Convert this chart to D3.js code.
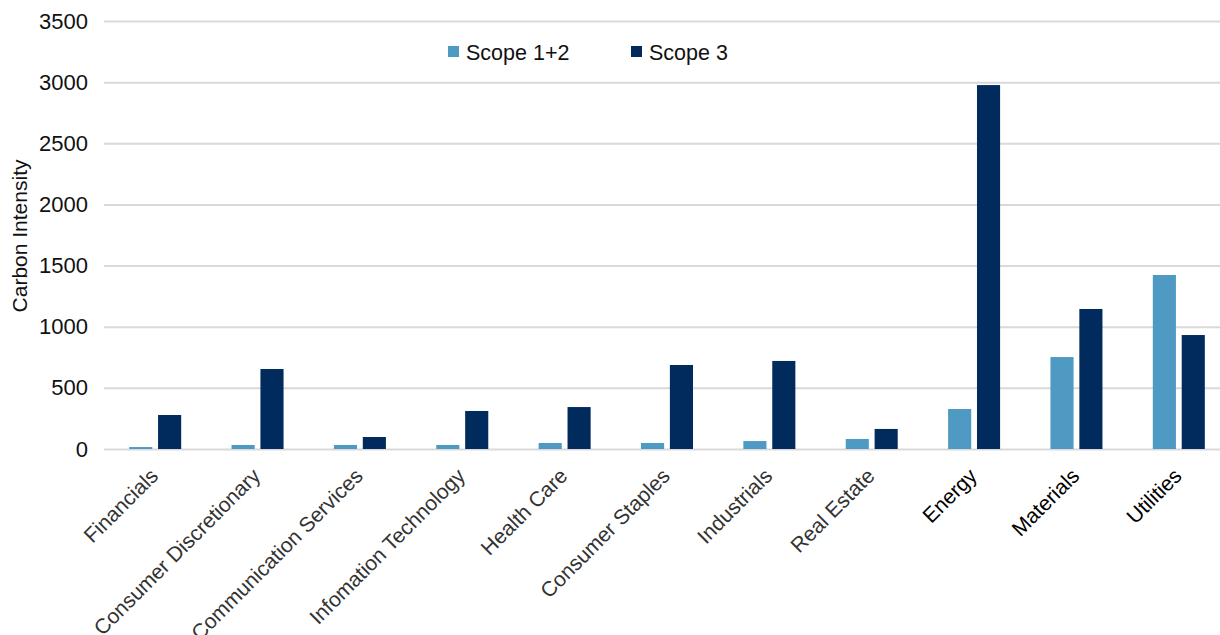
<!DOCTYPE html>
<html>
<head>
<meta charset="utf-8">
<script src="https://cdn.jsdelivr.net/npm/d3@7"></script>
<style>
  body { margin: 0; background: #fff; }
  svg { display: block; font-family: "Liberation Sans", Arial, sans-serif; }
</style>
</head>
<body>
<svg id="chart" width="1220" height="635"></svg>
<script>
// sectors and the two emission series
const sectors = ["Financials", "Consumer Discretionary", "Communication Services", "Infomation Technology",
    "Health Care", "Consumer Staples", "Industrials", "Real Estate", "Energy", "Materials", "Utilities"];
const scope12 = [16, 33, 33, 33, 49, 49, 65, 82, 327, 752, 1423];
const scope3 = [278, 654, 98, 311, 343, 687, 720, 164, 2976, 1145, 932];
const seriesNames = ["Scope 1+2", "Scope 3"];
const yTicks = [0, 500, 1000, 1500, 2000, 2500, 3000, 3500];

const colors = ["#4F9AC2", "#002B5C"];

const svg = d3.select("#chart");
const plotLeft = 104, plotRight = 1230, plotTop = 21, plotBottom = 449;

const x0 = d3.scaleBand().domain(sectors).range([plotLeft, plotRight]).padding(0);
const bw = x0.bandwidth();
const x1 = d3.scaleBand().domain(seriesNames).range([bw / 2 - 26, bw / 2 + 26]).paddingInner(0.2);
const y = d3.scaleLinear().domain([0, 3500]).range([plotBottom, plotTop]);

// gridlines + y labels
const yAxis = d3.axisLeft(y).tickValues(yTicks).tickFormat(d3.format("d"))
    .tickSize(-(plotRight - plotLeft)).tickPadding(16);
const gy = svg.append("g").attr("transform", `translate(${plotLeft},0)`).call(yAxis);
gy.select(".domain").remove();
gy.selectAll(".tick line").attr("stroke", "#D9D9D9").attr("stroke-width", 2);
gy.selectAll(".tick text").attr("fill", "#111").style("font-size", "22px");

svg.append("text")
    .attr("transform", "translate(27,236) rotate(-90)")
    .attr("text-anchor", "middle")
    .style("font-size", "21px")
    .attr("fill", "#111")
    .text("Carbon Intensity");

const rows = sectors.map((s, i) => ({ sector: s, vals: [scope12[i], scope3[i]] }));

const groups = svg.append("g").selectAll("g").data(rows).join("g")
    .attr("transform", d => `translate(${x0(d.sector)},0)`);

groups.selectAll("rect").data(d => d.vals.map((v, j) => ({ key: seriesNames[j], v: v, j: j })))
    .join("rect")
    .attr("x", d => x1(d.key))
    .attr("width", x1.bandwidth())
    .attr("y", d => y(d.v))
    .attr("height", d => plotBottom - y(d.v))
    .attr("fill", d => colors[d.j]);

// x labels (long ones run off the bottom, as in the original)
const xAxis = d3.axisBottom(x0).tickSize(0).tickPadding(0);
const gx = svg.append("g").attr("transform", `translate(0,${plotBottom})`).call(xAxis);
gx.select(".domain").remove();
gx.selectAll(".tick text")
    .attr("text-anchor", "end")
    .attr("transform", "translate(-1,23) rotate(-45)")
    .attr("dy", "0.35em")
    .attr("y", 0)
    .attr("fill", (d, i) => i >= 8 ? "#000" : "#333")
    .style("font-size", "21px");

// legend
const legend = svg.append("g");
const legendX = [448, 631];
seriesNames.forEach((name, i) => {
    legend.append("rect").attr("x", legendX[i]).attr("y", 46).attr("width", 11).attr("height", 11).attr("fill", colors[i]);
    legend.append("text").attr("x", legendX[i] + 18).attr("y", 60)
        .style("font-size", "21.5px").attr("fill", "#111").text(name);
});
</script>
</body>
</html>
